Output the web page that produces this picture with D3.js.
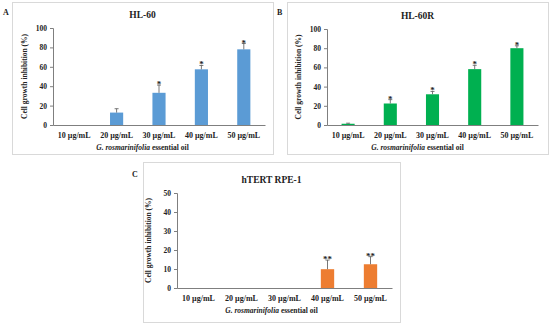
<!DOCTYPE html>
<html>
<head>
<meta charset="utf-8">
<script src="https://cdn.jsdelivr.net/npm/d3@7"></script>
<style>
  body { margin: 0; background: #fff; }
  svg text { font-family: "Liberation Serif", "Times New Roman", serif; font-weight: bold; fill: #222; }
</style>
</head>
<body>
<svg id="chart" width="550" height="326"></svg>
<script>
// Concentrations shared by all three panels
var doses = ['10 µg/mL', '20 µg/mL', '30 µg/mL', '40 µg/mL', '50 µg/mL'];

// HL-60
var hl60Values = [0, 12.8, 33.2, 57.4, 78];
var hl60Errors = [0, 4, 8, 4, 6];
var hl60Marks = ['', '', '*', '*', '*'];

// HL-60R
var hl60rValues = [1.3, 22.4, 32, 58.2, 80];
var hl60rErrors = [0.6, 4, 3, 4, 2.5];
var hl60rMarks = ['', '*', '*', '*', '*'];

// hTERT RPE-1
var rpeValues = [0, 0, 0, 9.9, 12.5];
var rpeErrors = [0, 0, 0, 4.8, 4];
var rpeMarks = ['', '', '', '**', '**'];

var yTicksBig = [0, 20, 40, 60, 80, 100];
var yTicksSmall = [0, 10, 20, 30, 40, 50];

var svg = d3.select('#chart');

function drawPanel(p) {
  var g = svg.append('g');
  var cx = p.frame[0] + p.frame[2] / 2;

  // outer frame
  g.append('rect')
    .attr('x', p.frame[0] + 0.5).attr('y', p.frame[1] + 0.5)
    .attr('width', p.frame[2]).attr('height', p.frame[3])
    .attr('fill', 'none').attr('stroke', '#d9d9d9');

  g.append('text').attr('x', p.letter[0]).attr('y', p.letter[1])
    .attr('font-size', 8).text(p.letterText);

  var x = d3.scaleBand().domain(doses).range([p.left, p.right]).paddingInner(0.69).paddingOuter(0.345);
  var y = d3.scaleLinear().domain([0, p.max]).range([p.bottom, p.top]);
  var mid = i => x(doses[i]) + x.bandwidth() / 2;

  g.append('text').attr('x', cx).attr('y', p.top - 10)
    .attr('text-anchor', 'middle').attr('font-size', 9.5).text(p.title);

  // y axis
  var ya = g.append('g').attr('transform', 'translate(' + p.left + ',0)')
    .call(d3.axisLeft(y).tickValues(p.ticks).tickSize(3).tickPadding(3));
  ya.select('.domain').attr('stroke', '#7f7f7f');
  ya.selectAll('.tick line').attr('stroke', '#7f7f7f');
  ya.selectAll('text').attr('font-size', 7.5).attr('font-family', '"Liberation Serif", serif').attr('font-weight', 'bold').attr('fill', '#222');

  // x axis
  var xa = g.append('g').attr('transform', 'translate(0,' + p.bottom + ')')
    .call(d3.axisBottom(x).tickSize(0).tickPadding(7).tickSizeOuter(0));
  xa.select('.domain').attr('stroke', '#7f7f7f');
  xa.selectAll('text').attr('font-size', 8).attr('font-family', '"Liberation Serif", serif').attr('font-weight', 'bold').attr('fill', '#222');

  // bars
  g.selectAll('rect.bar').data(p.values).join('rect').attr('class', 'bar')
    .attr('x', (d, i) => x(doses[i]))
    .attr('y', d => y(d))
    .attr('width', x.bandwidth())
    .attr('height', d => p.bottom - y(d))
    .attr('fill', p.color);

  // upper error bars
  var idx = d3.range(p.values.length).filter(i => p.errors[i] > 0);
  var eb = g.selectAll('g.err').data(idx).join('g').attr('class', 'err')
    .attr('stroke', '#555').attr('stroke-width', 0.8);
  eb.append('line')
    .attr('x1', mid).attr('x2', mid)
    .attr('y1', i => y(p.values[i]))
    .attr('y2', i => y(p.values[i] + p.errors[i]));
  eb.append('line')
    .attr('x1', i => mid(i) - 2).attr('x2', i => mid(i) + 2)
    .attr('y1', i => y(p.values[i] + p.errors[i]))
    .attr('y2', i => y(p.values[i] + p.errors[i]));

  // significance marks
  g.selectAll('text.sig').data(p.marks).join('text').attr('class', 'sig')
    .attr('x', (d, i) => mid(i))
    .attr('y', (d, i) => y(p.values[i] + p.errors[i]) + 2)
    .attr('text-anchor', 'middle').attr('font-size', 9).attr('fill', '#444')
    .text(d => d);

  // axis titles
  g.append('text')
    .attr('transform', 'translate(' + (p.left - 26) + ',' + ((p.top + p.bottom) / 2) + ') rotate(-90)')
    .attr('text-anchor', 'middle').attr('font-size', 7.5).text('Cell growth inhibition (%)');

  var xt = g.append('text').attr('x', cx).attr('y', p.bottom + 25)
    .attr('text-anchor', 'middle').attr('font-size', 7.5);
  xt.append('tspan').attr('font-style', 'italic').text('G. rosmarinifolia');
  xt.append('tspan').text(' essential oil');
}

drawPanel({
  frame: [12, 2, 261, 152], letter: [3, 15], letterText: 'A', title: 'HL-60',
  left: 53, right: 265, top: 28, bottom: 125, max: 100, ticks: yTicksBig,
  values: hl60Values, errors: hl60Errors, marks: hl60Marks, color: '#5b9bd5'
});
drawPanel({
  frame: [287, 2, 261, 152], letter: [277, 15], letterText: 'B', title: 'HL-60R',
  left: 327, right: 538, top: 29, bottom: 125, max: 100, ticks: yTicksBig,
  values: hl60rValues, errors: hl60rErrors, marks: hl60rMarks, color: '#00b050'
});
drawPanel({
  frame: [143, 162, 257, 160], letter: [132, 177], letterText: 'C', title: 'hTERT RPE-1',
  left: 177, right: 392, top: 193, bottom: 288, max: 50, ticks: yTicksSmall,
  values: rpeValues, errors: rpeErrors, marks: rpeMarks, color: '#ed7d31'
});
</script>
</body>
</html>
